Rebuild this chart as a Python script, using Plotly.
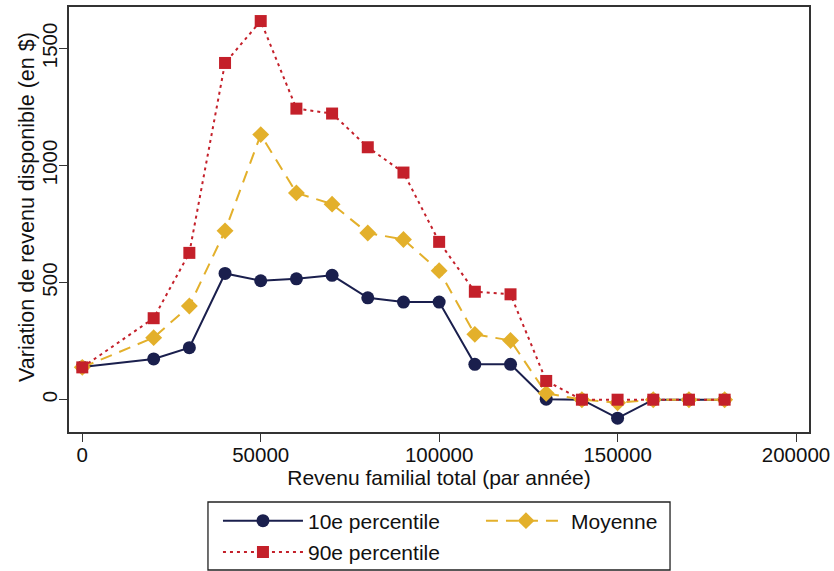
import plotly.graph_objects as go

income = [0, 20000, 30000, 40000, 50000, 60000, 70000, 80000, 90000, 100000,
          110000, 120000, 130000, 140000, 150000, 160000, 170000, 180000]
p10 = [140, 174, 222, 539, 508, 516, 531, 435, 417, 417, 151, 151, 2, 0, -79, 0, 0, 0]
moyenne = [138, 265, 400, 721, 1132, 883, 835, 712, 684, 551, 279, 253, 27, 0, -13, 0, 0, 0]
p90 = [138, 348, 627, 1438, 1617, 1243, 1222, 1078, 970, 674, 461, 450, 80, 0, 0, 0, 0, 0]

x_ticks = [0, 50000, 100000, 150000, 200000]
y_ticks = [0, 500, 1000, 1500]

NAVY = "#1a1f4d"
GOLD = "#e3b02b"
RED = "#c4202a"
FONT = "Liberation Sans, Arial, sans-serif"

fig = go.Figure()
fig.add_trace(go.Scatter(
    x=income, y=p10, mode="lines+markers", name="10e percentile",
    line=dict(color=NAVY, width=2), marker=dict(symbol="circle", size=13, color=NAVY),
    legend="legend"))
fig.add_trace(go.Scatter(
    x=income, y=moyenne, mode="lines+markers", name="Moyenne",
    line=dict(color=GOLD, width=2, dash="12px,8px"),
    marker=dict(symbol="diamond", size=13, color=GOLD),
    legend="legend"))
fig.add_trace(go.Scatter(
    x=income, y=p90, mode="lines+markers", name="90e percentile",
    line=dict(color=RED, width=2, dash="3px,4px"),
    marker=dict(symbol="square", size=12, color=RED),
    legend="legend2"))

axis_common = dict(showgrid=False, zeroline=False, showline=True, mirror=True,
                   linecolor="#333333", linewidth=1.5, ticks="outside", ticklen=8,
                   tickwidth=1.2, tickcolor="#333333",
                   tickfont=dict(family=FONT, size=20.5, color="#111111"))

fig.update_layout(
    width=834, height=571,
    margin=dict(l=69, r=25, t=7, b=139, autoexpand=False),
    paper_bgcolor="white", plot_bgcolor="white",
    font=dict(family=FONT, size=21, color="#111111"),
    xaxis=dict(range=[-3725, 203640], tickvals=x_ticks, tickformat="d",
               ticklabelstandoff=-4,
               title=dict(text="Revenu familial total (par année)",
                          font=dict(family=FONT, size=21), standoff=3),
               **axis_common),
    yaxis=dict(range=[-138, 1677], tickvals=y_ticks, tickformat="d", tickangle=-90,
               ticklabelstandoff=-6,
               **axis_common),
    legend=dict(orientation="h", x=0.2013, y=-0.2094, xanchor="left", yanchor="middle",
                bgcolor="rgba(0,0,0,0)", borderwidth=0, entrywidth=168,
                itemwidth=80, font=dict(family=FONT, size=21)),
    legend2=dict(orientation="h", x=0.2013, y=-0.2830, xanchor="left", yanchor="middle",
                 bgcolor="rgba(0,0,0,0)", borderwidth=0, itemwidth=80,
                 font=dict(family=FONT, size=21)),
    shapes=[dict(type="rect", xref="paper", yref="paper",
                 x0=0.1878, x1=0.8122, y0=-0.3247, y1=-0.1647,
                 line=dict(color="#222222", width=1.3))],
    annotations=[dict(text="Variation de revenu disponible (en $)", textangle=-90,
                      xref="paper", yref="paper", x=-0.0568, y=0.5294,
                      xanchor="center", yanchor="middle", showarrow=False,
                      font=dict(family=FONT, size=21.5))],
    showlegend=True,
)

fig.write_html("out.html", config={"displayModeBar": False},
               post_script="document.body.style.margin='0';")
